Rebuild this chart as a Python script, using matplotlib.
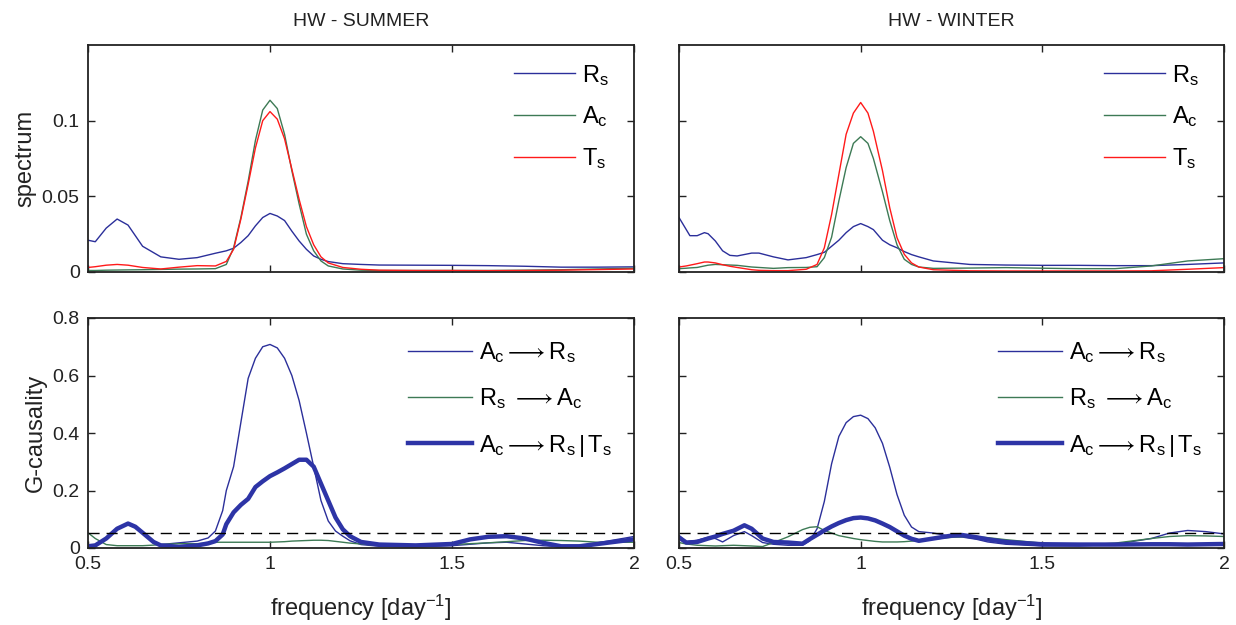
import numpy as np
import matplotlib
matplotlib.use("Agg")
import matplotlib.pyplot as plt

plt.rcParams['font.family'] = ['Liberation Sans', 'DejaVu Sans']
plt.rcParams['mathtext.fontset'] = 'custom'
plt.rcParams['mathtext.rm'] = 'Liberation Sans'
plt.rcParams['mathtext.it'] = 'Liberation Sans'

# ---------------- data ----------------
# spectrum, summer
f_ss = [0.50, 0.52, 0.55, 0.58, 0.61, 0.65, 0.70, 0.75, 0.80, 0.85, 0.88, 0.90, 0.92, 0.94,
        0.96, 0.98, 1.00, 1.02, 1.04, 1.06, 1.08, 1.10, 1.12, 1.14, 1.16, 1.20, 1.25, 1.30,
        1.40, 1.50, 1.60, 1.70, 1.80, 1.90, 2.00]
ss_R = [0.021, 0.020, 0.029, 0.035, 0.031, 0.017, 0.010, 0.0084, 0.0095, 0.0124, 0.014, 0.0157,
        0.0195, 0.024, 0.0305, 0.036, 0.0387, 0.037, 0.034, 0.027, 0.0205, 0.015, 0.0106,
        0.0084, 0.0069, 0.0055, 0.005, 0.0046, 0.0045, 0.0044, 0.0042, 0.0038, 0.0032, 0.0032, 0.0034]
ss_A = [0.001, 0.001, 0.0012, 0.0013, 0.0014, 0.0015, 0.0017, 0.0019, 0.002, 0.0022, 0.005,
        0.016, 0.036, 0.060, 0.087, 0.107, 0.1135, 0.108, 0.091, 0.067, 0.045, 0.025, 0.014,
        0.0073, 0.004, 0.002, 0.0012, 0.001, 0.001, 0.001, 0.001, 0.0012, 0.0015, 0.002, 0.0025]
ss_T = [0.003, 0.0035, 0.0045, 0.005, 0.0045, 0.003, 0.002, 0.0032, 0.0042, 0.004, 0.007,
        0.015, 0.035, 0.058, 0.082, 0.100, 0.106, 0.101, 0.088, 0.068, 0.048, 0.030, 0.018,
        0.010, 0.006, 0.003, 0.0018, 0.0012, 0.001, 0.001, 0.0009, 0.001, 0.0012, 0.0016, 0.002]

# spectrum, winter
f_sw = [0.50, 0.52, 0.53, 0.55, 0.57, 0.58, 0.60, 0.62, 0.64, 0.66, 0.70, 0.72, 0.76, 0.80,
        0.85, 0.88, 0.90, 0.92, 0.94, 0.96, 0.98, 1.00, 1.02, 1.035, 1.06, 1.08, 1.10, 1.12,
        1.14, 1.16, 1.20, 1.30, 1.40, 1.50, 1.60, 1.70, 1.80, 1.90, 2.00]
sw_R = [0.036, 0.028, 0.024, 0.024, 0.026, 0.0253, 0.0205, 0.014, 0.011, 0.0106, 0.0125, 0.0125,
        0.010, 0.008, 0.0095, 0.0115, 0.013, 0.017, 0.021, 0.026, 0.030, 0.032, 0.030, 0.028,
        0.021, 0.018, 0.016, 0.0135, 0.0115, 0.010, 0.0073, 0.005, 0.0046, 0.0044, 0.0044,
        0.0042, 0.0042, 0.005, 0.006]
sw_A = [0.0022, 0.0025, 0.0027, 0.003, 0.004, 0.0045, 0.005, 0.0048, 0.0046, 0.0044, 0.0033,
        0.003, 0.0024, 0.0029, 0.003, 0.0035, 0.0095, 0.023, 0.047, 0.069, 0.085, 0.0894,
        0.085, 0.075, 0.053, 0.034, 0.018, 0.0084, 0.005, 0.0033, 0.0024, 0.0026, 0.0029,
        0.0025, 0.0022, 0.0022, 0.004, 0.0073, 0.0088]
sw_T = [0.0033, 0.004, 0.0045, 0.0055, 0.0066, 0.0066, 0.006, 0.0048, 0.0038, 0.003, 0.0015,
        0.0011, 0.0009, 0.0009, 0.0018, 0.005, 0.016, 0.038, 0.0645, 0.091, 0.105, 0.112,
        0.105, 0.093, 0.067, 0.0425, 0.0227, 0.0117, 0.006, 0.0033, 0.0015, 0.0008, 0.0007,
        0.0007, 0.0007, 0.0007, 0.0008, 0.0018, 0.0029]

# G-causality, summer
f_gs = [0.50, 0.52, 0.55, 0.58, 0.61, 0.63, 0.65, 0.68, 0.70, 0.75, 0.80, 0.83, 0.85, 0.87,
        0.88, 0.90, 0.92, 0.94, 0.96, 0.98, 1.00, 1.02, 1.04, 1.06, 1.08, 1.10, 1.12, 1.14,
        1.16, 1.18, 1.20, 1.22, 1.25, 1.30, 1.40, 1.50, 1.55, 1.60, 1.65, 1.70, 1.75, 1.80,
        1.85, 1.90, 2.00]
gs_AR = [0.008, 0.012, 0.035, 0.070, 0.083, 0.075, 0.053, 0.024, 0.012, 0.018, 0.024, 0.035,
         0.059, 0.130, 0.200, 0.283, 0.437, 0.590, 0.660, 0.700, 0.708, 0.696, 0.660, 0.600,
         0.513, 0.400, 0.283, 0.165, 0.094, 0.059, 0.041, 0.025, 0.012, 0.006, 0.004, 0.008,
         0.013, 0.018, 0.020, 0.014, 0.008, 0.004, 0.008, 0.018, 0.040]
gs_RA = [0.053, 0.033, 0.012, 0.008, 0.008, 0.008, 0.008, 0.010, 0.012, 0.015, 0.015, 0.017,
         0.020, 0.020, 0.020, 0.020, 0.020, 0.020, 0.020, 0.020, 0.020, 0.021, 0.022, 0.024,
         0.025, 0.026, 0.027, 0.027, 0.026, 0.023, 0.020, 0.017, 0.014, 0.009, 0.008, 0.012,
         0.015, 0.018, 0.022, 0.026, 0.027, 0.026, 0.024, 0.020, 0.020]
gs_ART = [0.006, 0.009, 0.033, 0.067, 0.085, 0.074, 0.053, 0.021, 0.009, 0.004, 0.009, 0.016,
          0.024, 0.047, 0.083, 0.124, 0.150, 0.171, 0.212, 0.232, 0.250, 0.263, 0.277, 0.292,
          0.307, 0.307, 0.283, 0.224, 0.165, 0.106, 0.065, 0.041, 0.021, 0.012, 0.009, 0.014,
          0.030, 0.039, 0.041, 0.033, 0.018, 0.006, 0.006, 0.014, 0.030]

# G-causality, winter
f_gw = [0.50, 0.52, 0.55, 0.58, 0.60, 0.62, 0.65, 0.68, 0.70, 0.73, 0.76, 0.80, 0.84, 0.86,
        0.88, 0.90, 0.92, 0.94, 0.96, 0.98, 1.00, 1.02, 1.04, 1.06, 1.08, 1.10, 1.12, 1.14,
        1.16, 1.20, 1.25, 1.28, 1.32, 1.35, 1.40, 1.50, 1.60, 1.70, 1.80, 1.85, 1.90, 1.95, 2.00]
gw_AR = [0.043, 0.021, 0.027, 0.037, 0.033, 0.021, 0.043, 0.057, 0.043, 0.019, 0.013, 0.0095,
         0.0095, 0.025, 0.067, 0.162, 0.293, 0.388, 0.436, 0.457, 0.462, 0.450, 0.418, 0.364,
         0.281, 0.186, 0.114, 0.073, 0.057, 0.052, 0.040, 0.038, 0.030, 0.021, 0.013, 0.007,
         0.007, 0.013, 0.033, 0.052, 0.061, 0.057, 0.049]
gw_RA = [0.019, 0.014, 0.0095, 0.008, 0.007, 0.008, 0.0095, 0.008, 0.007, 0.005, 0.019, 0.039,
         0.064, 0.072, 0.074, 0.061, 0.052, 0.043, 0.038, 0.033, 0.029, 0.026, 0.023, 0.021,
         0.021, 0.021, 0.022, 0.024, 0.026, 0.031, 0.037, 0.039, 0.040, 0.036, 0.029, 0.017,
         0.0095, 0.017, 0.033, 0.040, 0.043, 0.042, 0.040]
gw_ART = [0.037, 0.019, 0.021, 0.033, 0.040, 0.049, 0.060, 0.079, 0.067, 0.033, 0.021, 0.019,
          0.015, 0.031, 0.046, 0.061, 0.075, 0.087, 0.097, 0.104, 0.106, 0.103, 0.096, 0.085,
          0.073, 0.058, 0.043, 0.032, 0.025, 0.033, 0.043, 0.045, 0.037, 0.030, 0.021, 0.013,
          0.012, 0.012, 0.013, 0.013, 0.012, 0.013, 0.014]

threshold = 0.052

titles = ['HW - SUMMER', 'HW - WINTER']
xticks = [0.5, 1, 1.5, 2]
xticklabels = ['0.5', '1', '1.5', '2']
spec_yticks = [0, 0.05, 0.1]
spec_yticklabels = ['0', '0.05', '0.1']
gc_yticks = [0, 0.2, 0.4, 0.6, 0.8]
gc_yticklabels = ['0', '0.2', '0.4', '0.6', '0.8']

spec_labels = [r'$\mathrm{R_s}$', r'$\mathrm{A_c}$', r'$\mathrm{T_s}$']
gc_labels = [r'$\mathrm{A_c}\longrightarrow\mathrm{R_s}$',
             r'$\mathrm{R_s}\ \longrightarrow\mathrm{A_c}$',
             r'$\mathrm{A_c}\longrightarrow\mathrm{R_s}\,|\,\mathrm{T_s}$']

BLUE = '#2b2f9a'
GREEN = '#3d7a55'
RED = '#ff1a1a'
THICK = '#2d34a6'

# ---------------- figure ----------------
fig = plt.figure(figsize=(12.36, 6.25), dpi=100)
lefts = [88 / 1236, 679 / 1236]
widths = [546 / 1236, 545 / 1236]
top_b, top_h = 1 - 272 / 625, 227 / 625
bot_b, bot_h = 1 - 548 / 625, 230 / 625

spec_data = [(f_ss, ss_R, ss_A, ss_T), (f_sw, sw_R, sw_A, sw_T)]
gc_data = [(f_gs, gs_AR, gs_RA, gs_ART), (f_gw, gw_AR, gw_RA, gw_ART)]


def style(ax):
    ax.set_xlim(0.5, 2)
    ax.set_xticks(xticks)
    ax.tick_params(direction='in', top=True, right=True, length=5, width=1.0,
                   labelsize=14, pad=6, colors='#222222')
    for s in ax.spines.values():
        s.set_linewidth(1.3)
        s.set_color('#222222')


for i in range(2):
    ax = fig.add_axes([lefts[i], top_b, widths[i], top_h])
    f, R, A, T = spec_data[i]
    ax.plot(f, R, color=BLUE, lw=1.0, label=spec_labels[0])
    ax.plot(f, A, color=GREEN, lw=1.0, label=spec_labels[1])
    ax.plot(f, T, color=RED, lw=1.0, label=spec_labels[2])
    style(ax)
    ax.set_ylim(0, 0.15)
    ax.set_yticks(spec_yticks)
    ax.set_xticklabels([])
    if i == 0:
        ax.set_yticklabels(spec_yticklabels)
        ax.set_ylabel('spectrum', fontsize=17, labelpad=4, color='#222222')
    else:
        ax.set_yticklabels([])
    ax.set_title(titles[i], fontsize=14, pad=14, color='#222222')
    ax.legend(loc='upper right', frameon=False, fontsize=17, handlelength=2.6,
              handletextpad=0.3, labelspacing=0.72, borderaxespad=0.3,
              bbox_to_anchor=(0.985, 0.995))

    ax2 = fig.add_axes([lefts[i], bot_b, widths[i], bot_h])
    f, AR, RA, ART = gc_data[i]
    ax2.plot(f, AR, color=BLUE, lw=1.0, label=gc_labels[0])
    ax2.plot(f, RA, color=GREEN, lw=1.0, label=gc_labels[1])
    ax2.plot(f, ART, color=THICK, lw=3.2, label=gc_labels[2])
    ax2.axhline(threshold, color='black', lw=1.0, ls=(0, (8, 5)))
    style(ax2)
    ax2.set_ylim(0, 0.8)
    ax2.set_yticks(gc_yticks)
    ax2.set_xticklabels(xticklabels)
    if i == 0:
        ax2.set_yticklabels(gc_yticklabels)
        ax2.set_ylabel('G-causality', fontsize=17, labelpad=4, color='#222222')
    else:
        ax2.set_yticklabels([])
    ax2.set_xlabel(r'frequency [day$^{\mathrm{-1}}$]', fontsize=17, labelpad=14, color='#222222')
    handles, labels = ax2.get_legend_handles_labels()
    ax2.legend(handles[:3], labels[:3], loc='upper right', frameon=False, fontsize=17,
               handlelength=2.7, handletextpad=0.3, labelspacing=0.9, borderaxespad=0.3,
               bbox_to_anchor=(0.99, 0.975))

fig.savefig('out.png', dpi=100)
